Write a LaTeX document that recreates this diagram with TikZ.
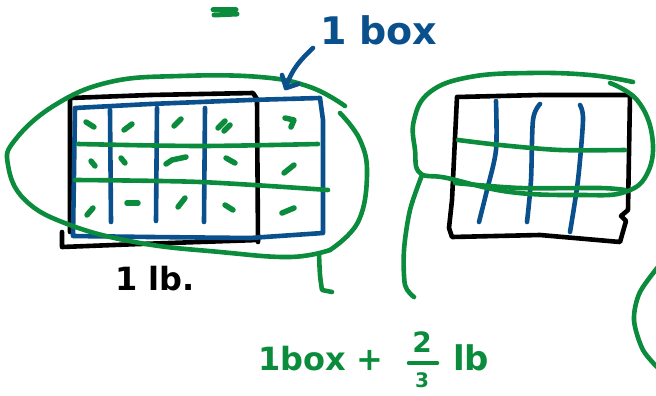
\documentclass[tikz,border=0pt]{standalone}
\usepackage{fontspec}
\setmainfont{DejaVu Sans}
\definecolor{pgreen}{RGB}{10,140,60}
\definecolor{pblue}{RGB}{10,80,140}
\begin{document}
\begin{tikzpicture}[x=1pt,y=-1pt,
  pen/.style={line width=4.6pt,line cap=round,line join=round},
  gpen/.style={pen,draw=pgreen},
  bpen/.style={pen,draw=pblue},
  kpen/.style={pen,draw=black},
  tickmark/.style={draw=pgreen,line width=5.5pt,line cap=round,line join=round},
  hand/.style={inner sep=0pt,outer sep=0pt}]
\useasboundingbox (0,0) rectangle (656,396);

% ---------- left figure ----------
% black rectangle (1 lb)
\draw[kpen] (70,232) -- (70,98) -- (150,95) -- (253,93) -- (257,99) -- (258,242);
\draw[kpen] (62,232) -- (62,247) -- (140,244) -- (258,240);
% blue rectangle (1 box)
\draw[bpen] (75,108) -- (150,104) -- (250,100) -- (320,98) -- (323,120) -- (323,233)
  -- (250,238) -- (150,237) -- (73,236) -- cycle;
% blue dividers
\draw[bpen] (110,110) -- (111,222);
\draw[bpen] (157,108) -- (156,221);
\draw[bpen] (205,108) -- (204,222);
% green row lines
\draw[gpen] plot[smooth] coordinates {(78,144) (200,146) (318,144)};
\draw[gpen] plot[smooth] coordinates {(75,180) (200,182) (328,190)};
% tick marks in cells
\draw[tickmark] (86,122) -- (94,127);
\draw[tickmark] (124,130) -- (132,124);
\draw[tickmark] (174,126) -- (181,119);
\draw[tickmark] (218,128) -- (225,121);
\draw[tickmark] (224,131) -- (230,125);
\draw[tickmark] (285,118) -- (294,120) -- (291,127);
\draw[tickmark] (91,161) -- (95,166);
\draw[tickmark] (121,158) -- (125,163);
\draw[tickmark] (166,164) -- (172,160) -- (186,157);
\draw[tickmark] (226,158) -- (235,163);
\draw[tickmark] (284,173) -- (294,165);
\draw[tickmark] (87,215) -- (93,208);
\draw[tickmark] (127,203) -- (138,203);
\draw[tickmark] (178,207) -- (185,198);
\draw[tickmark] (225,205) -- (233,210);
\draw[tickmark] (282,213) -- (294,208);
% big green loop
\draw[gpen] plot[smooth,tension=0.7] coordinates {(345,106) (310,87) (260,77) (180,76) (110,82)
  (55,105) (15,140) (8,165) (25,200) (70,225) (140,243) (220,252) (290,257) (330,250)};
\draw[gpen] plot[smooth,tension=0.7] coordinates {(340,113) (360,140) (367,175) (358,222) (330,250)};
\draw[gpen] plot[smooth] coordinates {(319,254) (320,275) (322,290)} -- (332,292);
% label 1 box with arrow
\node[hand,anchor=base west,text=pblue,font=\fontsize{38}{40}\bfseries] (lbox) at (320,45) {1 box};
\coordinate (arrStart) at (313,48);
\coordinate (arrTip) at (286,88);
\draw[bpen] (arrStart) .. controls (300,60) and (290,72) .. (arrTip);
\draw[bpen] (282,75) -- (arrTip) -- (298,84);
% small green mark at top
\draw[pgreen,line width=5pt,line cap=round] (213,10) -- (236,10);
\draw[pgreen,line width=5pt,line cap=round] (214,15) -- (237,14);
% label 1 lb.
\node[hand,anchor=base west,font=\fontsize{32}{36}\bfseries] (lb) at (115,290) {1 lb.};

% ---------- right figure ----------
\draw[kpen] (457,97) -- (540,95) -- (630,95) -- (628,210) -- (621,216) -- (626,221) -- (620,242)
  -- (540,235) -- (452,237) -- (449,228) -- (452,200) -- cycle;
\draw[bpen] plot[smooth] coordinates {(496,101) (496,150) (487,190) (479,222)};
\draw[bpen] plot[smooth] coordinates {(540,104) (533,120) (531,180) (527,222)};
\draw[bpen] plot[smooth] coordinates {(580,105) (583,120) (578,180) (570,232)};
\draw[gpen] plot[smooth] coordinates {(458,140) (500,145) (560,150) (625,150)};
\draw[gpen] plot[smooth] coordinates {(455,183) (520,188) (600,188) (625,190)};
\draw[gpen] plot[smooth,tension=0.7] coordinates {(633,82) (590,75) (530,73) (470,77) (430,92)
  (414,120) (415,150) (420,173) (447,178) (510,192) (580,195) (625,192) (648,172) (652,135)
  (637,100) (610,83)};
\draw[gpen] plot[smooth] coordinates {(422,175) (410,210) (404,250) (405,285) (414,297)};
% partial loop at bottom right
\draw[gpen] plot[smooth] coordinates {(662,262) (640,292) (634,320) (643,350) (660,370)};

% ---------- sum label ----------
\node[hand,anchor=base west,text=pgreen,font=\fontsize{32}{36}\bfseries] (sumA) at (258,370) {1box +};
\node[hand,text=pgreen,font=\fontsize{28}{30}\bfseries] (num) at (422,342) {2};
\node[hand,text=pgreen,font=\fontsize{20}{22}\bfseries] (den) at (422,380) {3};
\coordinate (barL) at (409,363);
\coordinate (barR) at (437,363);
\draw[gpen] (barL) -- (barR);
\node[hand,anchor=base west,text=pgreen,font=\fontsize{34}{36}\bfseries] (sumB) at (453,370) {lb};
\end{tikzpicture}
\end{document}
